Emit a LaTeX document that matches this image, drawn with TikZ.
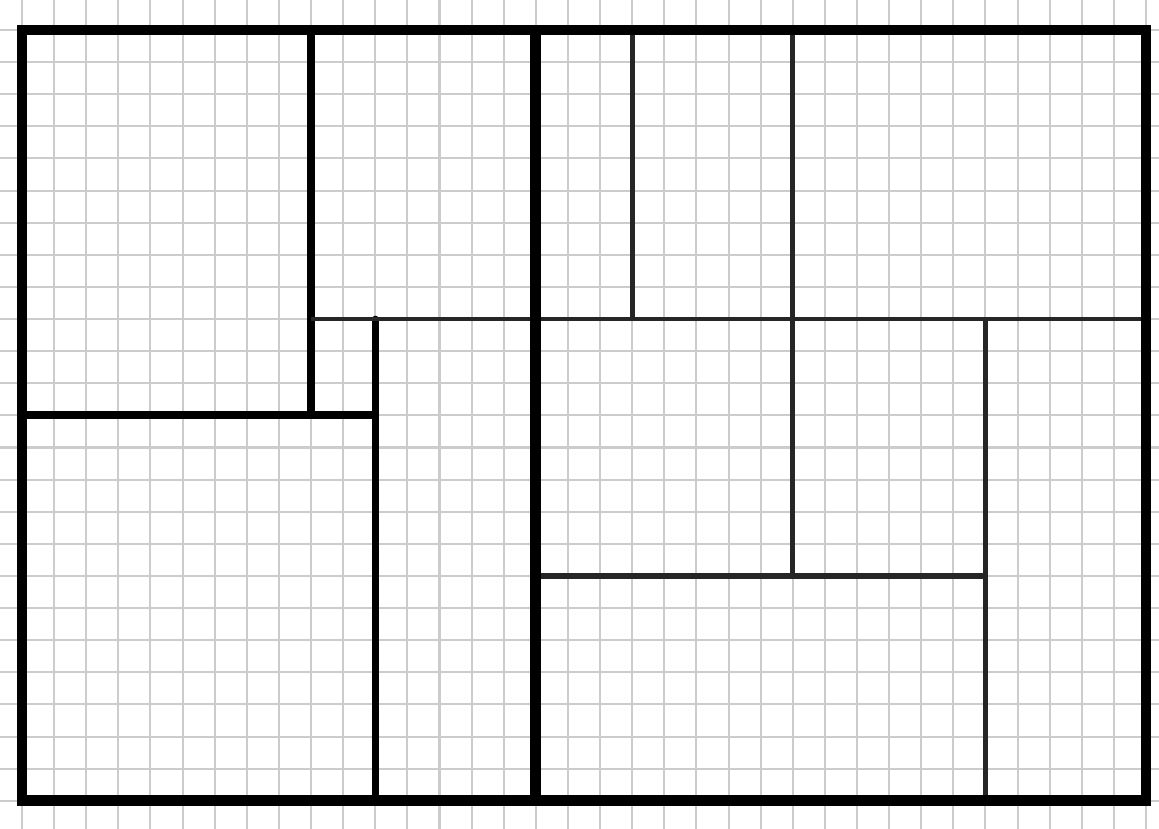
\documentclass[tikz,border=0pt]{standalone}
\begin{document}
\begin{tikzpicture}[x=0.5cm, y=0.5cm,
    outerwall/.style={line width=4.8pt, black},
    mainwall/.style={line width=3.5pt, black},
    sidewall/.style={line width=3pt, black},
    partition/.style={line width=2.1pt, black!85},
    gridline/.style={line width=0.9pt, black!20}]
    \useasboundingbox (-0.685,-0.87) rectangle (35.405,24.935);

    % grid
    \draw[gridline, step=0.5cm] (-0.685,-0.87) grid (35.405,24.935);

    % walls
    \draw[mainwall] (9,24) -- (9,12);
    \draw[mainwall] (0,12) -- (11,12);
    \draw[sidewall, line cap=round] (11,15) -- (11,0);
    \draw[partition] (9,15) -- (35,15);
    \draw[partition] (19,24) -- (19,15);
    \draw[partition] (24,24) -- (24,7);
    \draw[partition] (30,15) -- (30,0);
    \draw[partition, line width=2.4pt] (16,7) -- (30,7);
    \draw[outerwall] (16,24) -- (16,0);
    \draw[outerwall] (0,0) rectangle (35,24);
\end{tikzpicture}
\end{document}
